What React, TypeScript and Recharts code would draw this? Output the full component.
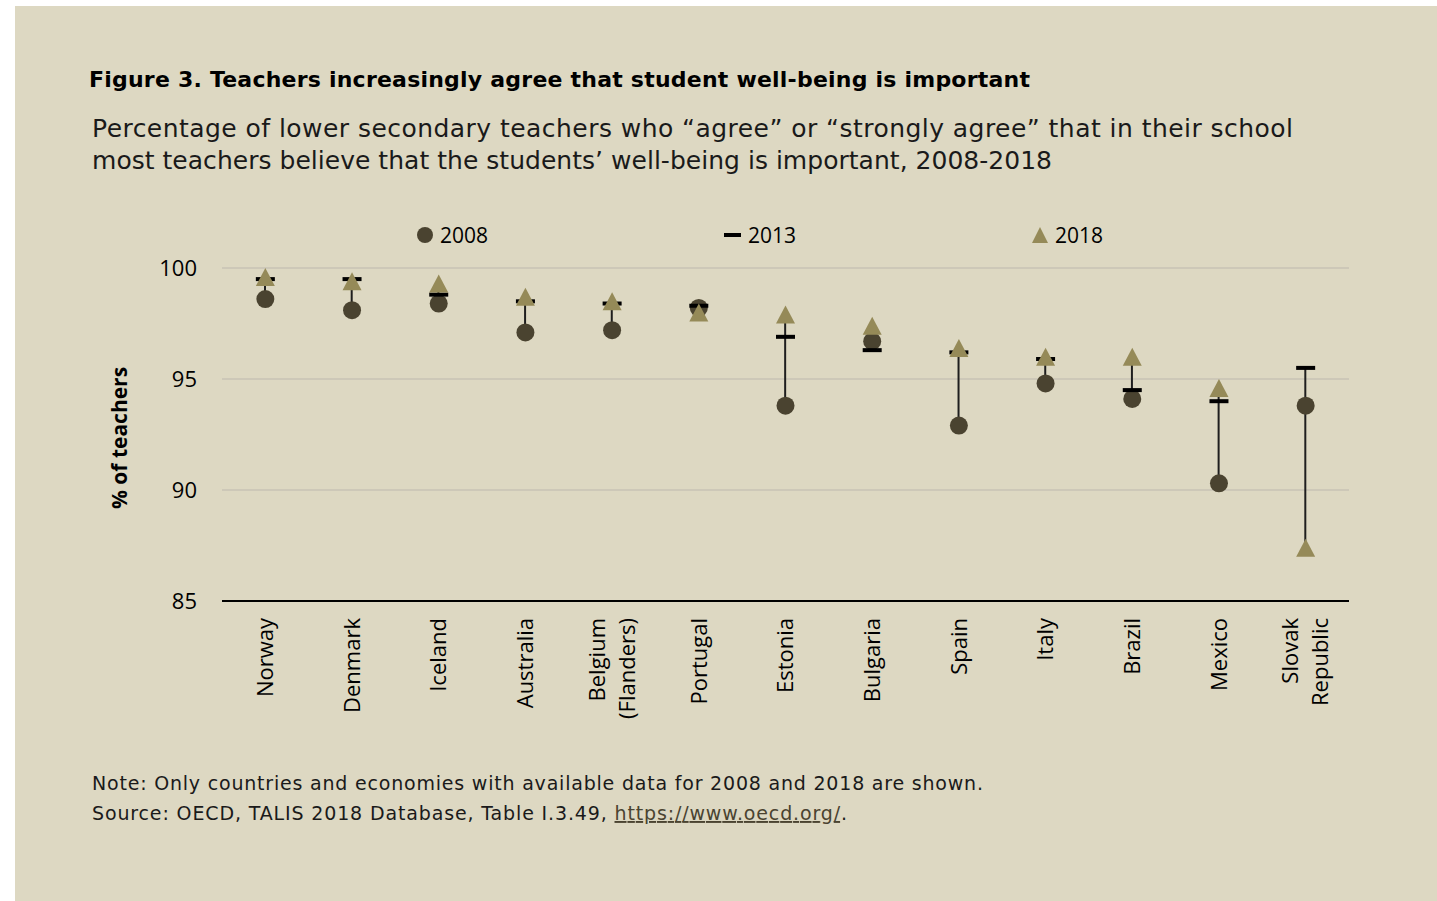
import { ComposedChart, Bar, Line, XAxis, YAxis, CartesianGrid } from 'recharts'

const countries = [
  'Norway',
  'Denmark',
  'Iceland',
  'Australia',
  'Belgium (Flanders)',
  'Portugal',
  'Estonia',
  'Bulgaria',
  'Spain',
  'Italy',
  'Brazil',
  'Mexico',
  'Slovak Republic',
]
const pct2008 = [98.6, 98.1, 98.4, 97.1, 97.2, 98.2, 93.8, 96.7, 92.9, 94.8, 94.1, 90.3, 93.8]
const pct2013 = [99.5, 99.5, 98.8, 98.5, 98.4, 98.3, 96.9, 96.3, 96.2, 95.9, 94.5, 94.0, 95.5]
const pct2018 = [99.6, 99.4, 99.3, 98.7, 98.5, 98.0, 97.9, 97.4, 96.4, 96.0, 96.0, 94.6, 87.4]
const yTicks = [85, 90, 95, 100]

const BG = '#ddd8c2'
const DARK = '#4a4330'
const OLIVE = '#958a58'
const FONT = '"Open Sans", sans-serif'
const TEXT_FONT = '"DejaVu Sans", sans-serif'

const data = countries.map((name, i) => {
  const vals = [pct2008[i], pct2013[i], pct2018[i]]
  return {
    name,
    v2008: pct2008[i],
    v2013: pct2013[i],
    v2018: pct2018[i],
    span: [Math.min(...vals), Math.max(...vals)],
  }
})

const circleDot = (p: any) => <circle key={`c${p.index}`} cx={p.cx} cy={p.cy} r={9} fill={DARK} />
const dashDot = (p: any) => <rect key={`d${p.index}`} x={p.cx - 9.5} y={p.cy - 2} width={19} height={4} fill="#000" />
const triDot = (p: any) => (
  <polygon
    key={`t${p.index}`}
    points={`${p.cx},${p.cy - 9} ${p.cx - 9.5},${p.cy + 9} ${p.cx + 9.5},${p.cy + 9}`}
    fill={OLIVE}
  />
)

function CountryTick({ x, y, payload }: any) {
  const lines = String(payload.value).split(' ')
  const lh = 30
  const start = -((lines.length - 1) * lh) / 2
  return (
    <text
      transform={`translate(${x},${y}) rotate(-90)`}
      textAnchor="end"
      fontSize={22}
      fontFamily={FONT}
      fill="#000"
    >
      {lines.map((ln, i) => (
        <tspan key={ln} x={0} y={start + i * lh} dy="0.35em">
          {ln}
        </tspan>
      ))}
    </text>
  )
}

export default function App() {
  return (
    <div style={{ position: 'absolute', left: 15, top: 6, width: 1422, height: 895, background: BG }}>
      <ComposedChart
        width={1422}
        height={760}
        data={data}
        margin={{ top: 262, right: 88, left: 147, bottom: 25 }}
        style={{ position: 'absolute', left: 0, top: 0 }}
      >
        <CartesianGrid vertical={false} stroke="#c7c3b5" strokeWidth={1.5} />
        <XAxis
          dataKey="name"
          interval={0}
          height={140}
          tickLine={false}
          tickSize={0}
          tickMargin={17}
          axisLine={{ stroke: '#000', strokeWidth: 2 }}
          tick={<CountryTick />}
        />
        <YAxis
          domain={[85, 100]}
          ticks={yTicks}
          width={60}
          axisLine={false}
          tickLine={false}
          tickSize={0}
          tickMargin={25}
          tick={{ fontSize: 22, fill: '#000', fontFamily: FONT }}
        />
        <Bar dataKey="span" barSize={2} fill="#1e1e1e" isAnimationActive={false} legendType="none" />
        <Line dataKey="v2008" stroke="none" dot={circleDot} activeDot={false} isAnimationActive={false} />
        <Line dataKey="v2013" stroke="none" dot={dashDot} activeDot={false} isAnimationActive={false} />
        <Line dataKey="v2018" stroke="none" dot={triDot} activeDot={false} isAnimationActive={false} />
      </ComposedChart>

      <svg width={1422} height={895} style={{ position: 'absolute', left: 0, top: 0, pointerEvents: 'none' }}>
        <text
          x={74}
          y={81}
          fontSize={22}
          fontWeight="bold"
          fontFamily={TEXT_FONT}
          fill="#000"
          textLength={941}
          lengthAdjust="spacing"
        >
          Figure 3. Teachers increasingly agree that student well-being is important
        </text>
        <text x={77} y={131} fontSize={25} fontFamily={TEXT_FONT} fill="#1a1a1a" textLength={1201} lengthAdjust="spacing">
          Percentage of lower secondary teachers who “agree” or “strongly agree” that in their school
        </text>
        <text x={77} y={163} fontSize={25} fontFamily={TEXT_FONT} fill="#1a1a1a" textLength={960} lengthAdjust="spacing">
          most teachers believe that the students’ well-being is important, 2008-2018
        </text>

        {/* legend */}
        <circle cx={410} cy={229} r={8} fill={DARK} />
        <text x={425} y={237} fontSize={21} fontFamily={FONT} fill="#000">2008</text>
        <rect x={709} y={227} width={17} height={4} fill="#000" />
        <text x={733} y={237} fontSize={21} fontFamily={FONT} fill="#000">2013</text>
        <polygon points="1025,221 1017,237 1033,237" fill={OLIVE} />
        <text x={1040} y={237} fontSize={21} fontFamily={FONT} fill="#000">2018</text>

        <text
          transform="translate(105,432) rotate(-90)"
          textAnchor="middle"
          dy="0.35em"
          fontSize={21}
          fontWeight="bold"
          fontFamily={FONT}
          fill="#000"
        >
          % of teachers
        </text>

        <text x={77} y={784} fontSize={19} fontFamily={TEXT_FONT} fill="#1a1a1a" textLength={891} lengthAdjust="spacing">
          Note: Only countries and economies with available data for 2008 and 2018 are shown.
        </text>
        <text x={77} y={814} fontSize={19} fontFamily={TEXT_FONT} fill="#1a1a1a" textLength={755} lengthAdjust="spacing">
          Source: OECD, TALIS 2018 Database, Table I.3.49,{' '}
          <tspan textDecoration="underline" fill="#4a4330">https://www.oecd.org/</tspan>.
        </text>
      </svg>
    </div>
  )
}
